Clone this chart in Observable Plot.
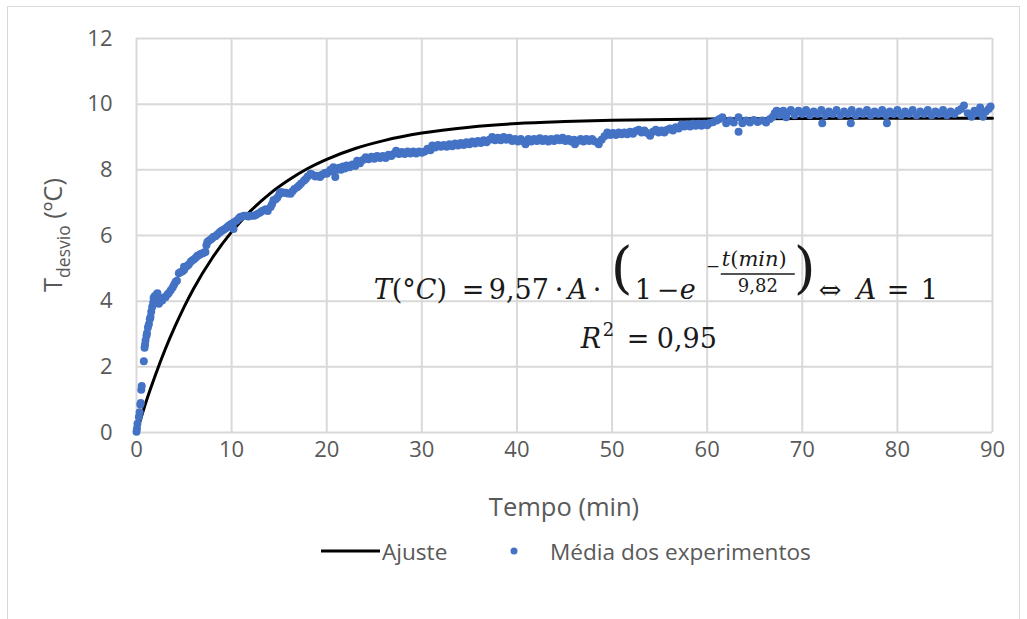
<!DOCTYPE html>
<html>
<head>
<meta charset="utf-8">
<script src="https://cdn.jsdelivr.net/npm/d3@7"></script>
<script src="https://cdn.jsdelivr.net/npm/@observablehq/plot@0.6"></script>
<style>
  html, body { margin: 0; padding: 0; background: #fff; }
  #chart { position: relative; width: 1027px; height: 619px; overflow: hidden; font-family: "Open Sans", sans-serif; }
  #frame { position: absolute; left: 7px; top: 6px; width: 1011px; height: 700px; border: 1.5px solid #d9d9d9; }
  #plot { position: absolute; left: 0; top: 0; }
  #legend { position: absolute; left: 0; top: 533px; width: 1027px; height: 36px; color: #595959; font-size: 22.6px; }
  #legend .item { position: absolute; top: 0; height: 36px; display: flex; align-items: center; white-space: nowrap; }
</style>
</head>
<body>
<div id="chart">
  <div id="frame"></div>
  <div id="plot"></div>
  <div id="legend"></div>
</div>
<script>
// Axis ticks
const xTicks = [0, 10, 20, 30, 40, 50, 60, 70, 80, 90];
const yTicks = [0, 2, 4, 6, 8, 10, 12];

// Series names (legend)
const serieAjuste = "Ajuste";
const serieMedia = "Média dos experimentos";

// Fitted curve, sampled values [min, °C]
const ajusteTempo = [0.3, 1, 2, 3, 4, 5, 6, 8, 10, 12, 14, 16, 18, 20, 23, 26, 30, 35, 40, 45, 50, 60, 70, 80, 90];
const ajusteValor = [0.28, 0.93, 1.76, 2.52, 3.20, 3.82, 4.38, 5.33, 6.11, 6.75, 7.27, 7.69, 8.04, 8.32, 8.65, 8.89, 9.12, 9.30, 9.41, 9.47, 9.51, 9.55, 9.56, 9.57, 9.57];

// Mean of the experiments [min, °C], by phase
const pontosInicio = [
  [0.0,0.02],[0.05,0.12],[0.1,0.27],[0.25,0.47],[0.33,0.62],[0.4,0.85],[0.45,0.9],[0.5,1.3],[0.55,1.42],
  [0.77,2.17],[0.85,2.58],[0.9,2.68],[0.95,2.8],[1.05,2.95],[1.1,3.02],[1.2,3.2],[1.3,3.3],[1.4,3.45],
  [1.47,3.52],[1.55,3.68],[1.65,3.82],[1.75,3.95],[1.8,4.1],[1.9,4.15],[2.0,4.12],[2.1,4.2],[2.2,4.24],
  [2.3,4.05],[2.35,3.92],[2.45,3.98],[2.55,4.05],[2.7,4.02],[2.8,4.1],[2.95,4.12]
];
const pontosSubida = [
  [3.05,4.12],[3.25,4.2],[3.4,4.25],[3.6,4.33],[3.8,4.42],[3.95,4.5],[4.1,4.58],[4.25,4.62],[4.45,4.85],
  [4.6,4.88],[4.8,4.9],[5.0,4.95],[5.0,5.05],[5.15,5.03],[5.35,5.08],[5.5,5.12],[5.7,5.2],[5.85,5.24],
  [6.05,5.28],[6.25,5.33],[6.4,5.38],[6.55,5.4],[6.75,5.44],[6.9,5.45],[7.1,5.48],[7.25,5.5],[7.35,5.7],
  [7.45,5.8],[7.6,5.84],[7.8,5.88],[7.95,5.92],[8.1,5.96],[8.3,5.98],[8.5,6.03],[8.7,6.08],[8.85,6.12],
  [9.0,6.15],[9.2,6.18],[9.4,6.22],[9.55,6.26],[9.7,6.3],[9.85,6.33],[10.0,6.36]
];
const pontosTransicao = [
  [10.2,6.2],[10.25,6.4],[10.5,6.45],[10.75,6.52],[10.9,6.56],[11.1,6.58],[11.3,6.6],[11.5,6.6],[11.75,6.58],
  [12.0,6.6],[12.3,6.6],[12.5,6.62],[12.75,6.66],[13.0,6.7],[13.2,6.75],[13.4,6.77],[13.6,6.8],[13.8,6.75],
  [14.1,6.87],[14.25,6.95],[14.4,7.07],[14.6,7.1],[14.8,7.15],[15.0,7.25],[15.1,7.32],[15.3,7.32],[15.5,7.3],
  [15.7,7.3],[15.9,7.28],[16.2,7.27],[16.4,7.35],[16.6,7.42],[16.9,7.47],[17.1,7.52],[17.3,7.58],[17.6,7.67],
  [17.8,7.72],[18.0,7.8],[18.3,7.88],[18.5,7.85],[18.8,7.8],[19.0,7.82],[19.3,7.78],[19.5,7.85],[19.8,7.9],
  [20.0,7.88],[20.2,7.94],[20.4,8.0],[20.6,7.96],[20.7,8.08],[20.9,7.78],[21.1,8.0],[21.3,8.06],[21.5,8.0],
  [21.7,8.1],[21.9,8.04],[22.1,8.13],[22.4,8.08],[22.7,8.16],[23.0,8.12],[23.2,8.28],[23.5,8.2],[23.8,8.3],
  [24.1,8.38],[24.4,8.32],[24.7,8.4],[25.0,8.34],[25.3,8.42],[25.6,8.36],[25.9,8.42],[26.2,8.36],[26.5,8.46],
  [26.8,8.42],[27.1,8.5],[27.3,8.58],[27.6,8.48],[27.9,8.54],[28.2,8.48],[28.5,8.56],[28.8,8.5],[29.1,8.56],
  [29.4,8.5],[29.7,8.56],[30.0,8.52]
];
const pontosPatamar = [
  [30.3,8.56],[30.6,8.64],[30.9,8.6],[31.1,8.74],[31.4,8.68],[31.7,8.76],[32.0,8.7],[32.3,8.76],[32.6,8.7],
  [32.9,8.78],[33.2,8.72],[33.5,8.8],[33.8,8.74],[34.1,8.82],[34.4,8.76],[34.7,8.84],[35.0,8.78],[35.3,8.86],
  [35.6,8.8],[35.9,8.88],[36.2,8.82],[36.5,8.9],[36.8,8.84],[37.1,8.92],[37.4,9.0],[37.7,8.9],[38.0,8.98],
  [38.3,8.9],[38.6,9.0],[38.9,8.92],[39.2,8.98],[39.5,8.88],[39.8,8.94],[40.1,8.86],[40.4,8.94],[40.7,8.86],
  [40.9,8.78],[41.2,8.94],[41.5,8.86],[41.8,8.94],[42.1,8.88],[42.4,8.96],[42.7,8.88],[43.0,8.94],[43.3,8.86],
  [43.6,8.94],[43.9,8.88],[44.2,8.96],[44.5,8.9],[44.8,8.98],[45.1,8.88],[45.4,8.94],[45.7,8.86],[46.0,8.92],
  [46.1,8.78],[46.4,8.88],[46.7,8.94],[47.0,8.86],[47.3,8.94],[47.6,8.88],[47.9,8.94],[48.2,8.86],[48.6,8.78],
  [48.9,8.92],[49.2,9.02],[49.5,9.14],[49.8,9.06],[50.1,9.12],[50.4,9.06],[50.7,9.14],[51.0,9.08],[51.3,9.14],
  [51.6,9.08],[51.9,9.16],[52.2,9.1],[52.5,9.18],[52.8,9.22],[53.1,9.14],[53.4,9.2],[53.7,9.12],[54.0,9.04],
  [54.3,9.16],[54.6,9.22],[54.9,9.14],[55.2,9.2],[55.5,9.14],[55.8,9.22],[56.1,9.26],[56.4,9.2],[56.7,9.3],
  [57.0,9.26],[57.3,9.38],[57.6,9.32],[57.9,9.38],[58.2,9.32],[58.5,9.4],[58.8,9.34],[59.1,9.4],[59.4,9.34],
  [59.7,9.4],[60.0,9.36]
];
const pontosFinal = [
  [60.2,9.42],[60.6,9.45],[61.0,9.5],[61.3,9.55],[61.6,9.6],[62.0,9.42],[62.4,9.5],[62.8,9.44],[63.3,9.16],
  [63.3,9.6],[63.7,9.42],[64.1,9.5],[64.5,9.44],[64.9,9.52],[65.3,9.46],[65.8,9.5],[66.2,9.44],[66.6,9.55],
  [66.9,9.62],[67.1,9.72],[67.3,9.8],[67.6,9.66],[68.0,9.8],[68.3,9.6],[68.4,9.72],[68.8,9.82],[69.2,9.66],
  [69.6,9.8],[70.0,9.7],[70.4,9.82],[70.8,9.66],[71.2,9.78],[71.6,9.7],[72.0,9.82],[72.1,9.42],[72.4,9.66],
  [72.8,9.78],[73.2,9.7],[73.6,9.82],[74.0,9.66],[74.4,9.78],[74.8,9.7],[75.1,9.42],[75.2,9.82],[75.6,9.66],
  [76.0,9.78],[76.4,9.7],[76.8,9.82],[77.2,9.66],[77.6,9.78],[78.0,9.7],[78.4,9.82],[78.8,9.66],[78.9,9.42],
  [79.2,9.78],[79.6,9.7],[80.0,9.82],[80.4,9.66],[80.8,9.78],[81.2,9.7],[81.6,9.82],[82.0,9.66],[82.4,9.78],
  [82.8,9.7],[83.2,9.82],[83.6,9.66],[84.0,9.78],[84.4,9.7],[84.8,9.82],[85.2,9.66],[85.6,9.78],[86.0,9.7],
  [86.4,9.8],[86.7,9.85],[87.0,9.96],[87.4,9.72],[87.8,9.62],[88.1,9.8],[88.5,9.72],[88.7,9.9],[89.0,9.62],
  [89.3,9.78],[89.6,9.85],[89.8,9.93]
];

const ajuste = ajusteTempo.map((t, i) => ({t, v: ajusteValor[i]}));
const medias = [...pontosInicio, ...pontosSubida, ...pontosTransicao, ...pontosPatamar, ...pontosFinal]
  .map(([t, v]) => ({t, v}));

const grey = "#595959";
const gridColor = "#d9d9d9";
const blue = "#4472C4";

const plot = Plot.plot({
  width: 1027,
  height: 520,
  marginLeft: 136,
  marginRight: 35,
  marginTop: 38,
  marginBottom: 88,
  style: {fontFamily: "'Open Sans', sans-serif", fontSize: "22px", color: grey, background: "transparent", overflow: "visible"},
  x: {domain: [0, 90], label: null},
  y: {domain: [0, 12], label: null},
  marks: [
    Plot.gridX(xTicks, {stroke: gridColor, strokeOpacity: 1, strokeWidth: 2}),
    Plot.gridY(yTicks, {stroke: gridColor, strokeOpacity: 1, strokeWidth: 2}),
    Plot.axisX(xTicks, {tickSize: 0, tickPadding: 9, fill: grey, fontSize: 22, label: null}),
    Plot.axisY(yTicks, {tickSize: 0, tickPadding: 24, fill: grey, fontSize: 22, label: null}),
    Plot.line(ajuste, {x: "t", y: "v", stroke: "#000", strokeWidth: 3, curve: "monotone-x"}),
    Plot.dot(medias, {x: "t", y: "v", r: 4, fill: blue, stroke: "none"})
  ]
});
document.getElementById("plot").appendChild(plot);

const svg = d3.select(plot);
const xs = plot.scale("x"), ys = plot.scale("y");
const [x0, x1] = xs.range, [y0, y1] = ys.range;

// Axis titles
svg.append("text")
  .attr("x", (x0 + x1) / 2).attr("y", y0 + 84)
  .attr("text-anchor", "middle")
  .attr("fill", grey).attr("font-size", 25.5)
  .text("Tempo (min)");

const yTitle = svg.append("text")
  .attr("transform", `translate(62,${(y0 + y1) / 2}) rotate(-90)`)
  .attr("text-anchor", "middle")
  .attr("fill", grey).attr("font-size", 25.5);
yTitle.append("tspan").text("T");
yTitle.append("tspan").attr("font-size", 17.5).attr("dy", 8).text("desvio");
yTitle.append("tspan").attr("dy", -8).text(" (ºC)");

// Fitted equation annotation
const ax = xs.apply(25), ay = ys.apply(4.05);
const eq = svg.append("g")
  .attr("fill", "#1a1a1a")
  .attr("text-anchor", "start")
  .attr("font-family", "'DejaVu Serif', serif");
function piece(dx, dy, size, parts) {
  const t = eq.append("text").attr("x", ax + dx).attr("y", ay + dy).attr("font-size", size);
  for (const [str, it] of parts) t.append("tspan").attr("font-style", it ? "italic" : "normal").text(str);
  return t;
}
piece(0, 0, 27, [["T", 1], ["(°", 0], ["C", 1], [")", 0]]);
piece(88, 0, 27, [["=", 0]]);
piece(115, 0, 27, [["9,57", 0]]);
piece(181, 0, 27, [["·", 0]]);
piece(194, 0, 27, [["A", 1]]);
piece(219, 0, 27, [["·", 0]]);
piece(237, -12, 56, [["(", 0]]);
piece(261, 0, 27, [["1", 0]]);
piece(283, 0, 27, [["−", 0]]);
piece(306, 0, 27, [["e", 1]]);
piece(332, -27, 17, [["−", 0]]);
piece(348, -33, 21, [["t", 1], ["(", 0], ["min", 1], [")", 0]]);
eq.append("line")
  .attr("x1", ax + 347).attr("x2", ax + 421)
  .attr("y1", ay - 25).attr("y2", ay - 25)
  .attr("stroke", "#1a1a1a").attr("stroke-width", 1.5);
piece(364, -7, 18, [["9,82", 0]]);
piece(420, -12, 56, [[")", 0]]);
piece(445, 0, 27, [["⇔", 0]]);
piece(483, 0, 27, [["A", 1]]);
piece(513, 0, 27, [["=", 0]]);
piece(547, 0, 27, [["1", 0]]);
piece(207, 49, 27, [["R", 1]]);
piece(229, 37, 18, [["2", 0]]);
piece(253, 49, 27, [["=", 0]]);
piece(283, 49, 27, [["0,95", 0]]);

// Legend
const legend = d3.select("#legend");
const itemA = legend.append("div").attr("class", "item").style("left", "321px");
itemA.append("svg").attr("width", 59).attr("height", 10)
  .append("line").attr("x1", 0).attr("x2", 59).attr("y1", 5).attr("y2", 5)
  .attr("stroke", "#000").attr("stroke-width", 3);
itemA.append("span").style("margin-left", "2px").text(serieAjuste);
const itemB = legend.append("div").attr("class", "item").style("left", "509px");
itemB.append("svg").attr("width", 10).attr("height", 10)
  .append("circle").attr("cx", 5).attr("cy", 5).attr("r", 3.5).attr("fill", blue);
itemB.append("span").style("margin-left", "31px").text(serieMedia);
</script>
</body>
</html>
